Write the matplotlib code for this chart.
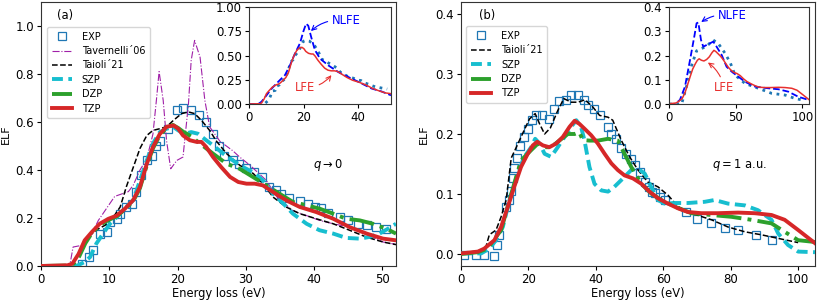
import matplotlib
matplotlib.use("Agg")
import matplotlib.pyplot as plt

# ---------------- Panel (a): q -> 0 ----------------
exp_a_x = [6.0, 7.07, 7.66, 8.6, 9.6, 10.1, 11.1, 11.6, 12.5, 13.3, 13.9, 14.7, 15.5, 16.2, 16.8, 17.4,
           18.6, 19.9, 20.8, 22.0, 23.2, 24.1, 25.2, 26.1, 26.8, 28.1, 29.0, 30.1, 31.2, 32.3, 33.4,
           34.4, 35.2, 36.3, 37.9, 39.1, 40.1, 41.0, 42.0, 43.8, 45.0, 46.4, 47.7, 49.1, 50.6]
exp_a_y = [0.01, 0.0375, 0.068, 0.135, 0.14, 0.183, 0.197, 0.218, 0.245, 0.26, 0.31, 0.38, 0.44, 0.46, 0.50, 0.52,
           0.572, 0.649, 0.658, 0.651, 0.63, 0.60, 0.55, 0.50, 0.46, 0.443, 0.426, 0.41, 0.39, 0.37, 0.33,
           0.315, 0.30, 0.283, 0.27, 0.257, 0.246, 0.243, 0.222, 0.204, 0.19, 0.176, 0.17, 0.162, 0.155]

tav_x = [0, 4.2, 4.7, 5.95, 7.2, 8.4, 9.6, 10.8, 11.8, 12.8, 13.5, 14.5, 15.5, 16.4, 16.9, 17.3, 17.9, 18.4, 19.0,
         19.9, 20.8, 21.6, 22.0, 22.5, 23.3, 24.0, 24.7, 26.2, 28.1, 29.1, 30.6, 33.0, 34.5, 36.9, 38.9, 40.8,
         42.8, 45.2, 46.7, 48.6, 50.1, 52.0]
tav_y = [0, 0.0, 0.079, 0.086, 0.12, 0.19, 0.24, 0.29, 0.30, 0.31, 0.336, 0.40, 0.447, 0.55, 0.69, 0.81, 0.69, 0.52,
         0.405, 0.44, 0.454, 0.676, 0.857, 0.94, 0.87, 0.69, 0.58, 0.52, 0.48, 0.454, 0.42, 0.357, 0.29, 0.23,
         0.21, 0.19, 0.176, 0.162, 0.149, 0.12, 0.10, 0.09]

tai_a_x = [0, 4.5, 5.7, 6.9, 8.1, 9.4, 10.6, 11.6, 12.5, 13.5, 14.5, 15.5, 16.4, 17.4, 18.4, 19.4, 20.6, 21.6,
           22.5, 23.5, 24.7, 25.7, 27.2, 29.1, 31.1, 32.5, 34.0, 35.9, 37.9, 40.3, 42.8, 45.2, 47.7, 50.1, 52.0]
tai_a_y = [0, 0.0, 0.065, 0.12, 0.15, 0.17, 0.204, 0.246, 0.33, 0.41, 0.49, 0.544, 0.565, 0.572, 0.58, 0.607,
           0.635, 0.642, 0.635, 0.607, 0.565, 0.52, 0.468, 0.42, 0.385, 0.343, 0.287, 0.246, 0.218, 0.197, 0.176,
           0.149, 0.12, 0.10, 0.089]

szp_a_x = [0, 5.2, 6.4, 7.2, 8.1, 9.1, 10.1, 11.1, 12.5, 13.5, 14.5, 15.5, 16.4, 17.4, 18.4, 19.4, 20.1, 21.1,
           22.0, 23.0, 24.2, 25.5, 26.7, 28.1, 29.6, 31.1, 32.5, 34.0, 35.5, 36.9, 38.9, 40.8, 42.8, 44.7, 46.7,
           48.1, 49.6, 50.8, 52.0]
szp_a_y = [0, 0.0, 0.017, 0.0375, 0.093, 0.135, 0.176, 0.204, 0.246, 0.274, 0.357, 0.44, 0.51, 0.558, 0.572,
           0.579, 0.565, 0.551, 0.558, 0.551, 0.524, 0.496, 0.468, 0.44, 0.412, 0.39, 0.357, 0.301, 0.26, 0.218,
           0.176, 0.149, 0.135, 0.117, 0.114, 0.121, 0.135, 0.155, 0.176]

dzp_a_x = [0, 4.0, 4.8, 5.6, 6.5, 7.4, 8.6, 9.9, 11.1, 12.3, 13.5, 14.5, 15.5, 16.4, 17.4, 18.4, 19.3, 20.1,
           20.8, 22.0, 23.3, 25.2, 27.2, 29.1, 31.1, 33.0, 35.0, 36.9, 38.9, 40.8, 42.8, 44.7, 46.7, 48.6, 50.6, 52.0]
dzp_a_y = [0, 0.002, 0.01, 0.04, 0.095, 0.135, 0.17, 0.192, 0.207, 0.236, 0.27, 0.325, 0.42, 0.49, 0.545, 0.575,
           0.588, 0.575, 0.56, 0.54, 0.51, 0.468, 0.426, 0.405, 0.37, 0.336, 0.30, 0.267, 0.253, 0.239, 0.218,
           0.197, 0.19, 0.176, 0.155, 0.135]

tzp_a_x = [0, 3.9, 4.6, 5.5, 6.4, 7.4, 8.6, 9.9, 11.1, 12.3, 13.5, 14.5, 15.5, 16.4, 17.4, 18.4, 19.4, 20.1,
           20.8, 21.8, 22.8, 23.5, 24.2, 25.2, 26.4, 27.7, 28.9, 30.1, 31.3, 32.5, 34.0, 35.9, 37.9, 40.3, 42.8,
           45.2, 47.7, 50.1, 52.0]
tzp_a_y = [0, 0.003, 0.01, 0.05, 0.107, 0.14, 0.176, 0.197, 0.21, 0.239, 0.274, 0.33, 0.426, 0.496, 0.55, 0.58,
           0.586, 0.572, 0.544, 0.524, 0.517, 0.517, 0.496, 0.454, 0.412, 0.371, 0.35, 0.343, 0.343, 0.336,
           0.308, 0.274, 0.246, 0.225, 0.197, 0.162, 0.135, 0.114, 0.107]

nlfe_a_x = [0, 3.4, 4.6, 6.5, 8.3, 10.7, 13.2, 15.0, 16.8, 18.7, 19.9, 20.9, 21.7, 22.7, 24.1, 26.0, 29.0, 32.7,
            36.3, 40.0, 44.9, 48.5, 52.0]
nlfe_a_y = [0, 0.0, 0.024, 0.093, 0.16, 0.23, 0.30, 0.40, 0.52, 0.63, 0.75, 0.83, 0.81, 0.70, 0.56, 0.47, 0.40,
            0.33, 0.28, 0.23, 0.16, 0.13, 0.09]

# ---------------- Panel (b): q = 1 a.u. ----------------
exp_b_x = [1.0, 4.5, 6.9, 9.9, 10.7, 11.4, 13.4, 14.1, 14.7, 15.3, 15.8, 16.6, 17.6, 18.6, 19.8, 21.0, 22.3, 24.0,
           26.2, 27.7, 29.2, 31.2, 32.7, 34.7, 36.4, 37.8, 39.4, 41.1, 43.6, 44.6, 46.0, 47.5, 49.0, 50.5, 51.7,
           53.0, 54.5, 55.9, 56.6, 57.6, 58.9, 60.4, 66.8, 70.1, 74.1, 78.4, 82.2, 87.6, 92.1]
exp_b_y = [-0.002, -0.002, -0.002, -0.004, 0.015, 0.032, 0.079, 0.09, 0.105, 0.126, 0.144, 0.16, 0.18, 0.195,
           0.209, 0.223, 0.231, 0.231, 0.225, 0.242, 0.255, 0.256, 0.265, 0.265, 0.257, 0.249, 0.242, 0.231, 0.212,
           0.20, 0.192, 0.176, 0.167, 0.159, 0.148, 0.137, 0.12, 0.112, 0.104, 0.101, 0.095, 0.09, 0.07, 0.059,
           0.051, 0.043, 0.04, 0.032, 0.024]

tai_b_x = [0, 5.0, 7.4, 8.4, 10.4, 11.9, 13.4, 14.9, 16.0, 17.8, 20.3, 22.0, 23.3, 24.8, 26.5, 28.7, 30.5, 32.7,
           34.7, 36.8, 39.1, 41.1, 43.6, 45.0, 47.5, 50.0, 52.5, 55.4, 58.4, 61.4, 64.4, 68.3, 74.3, 79.2, 84.2,
           89.1, 94.1, 100.0]
tai_b_y = [0.001, 0.004, 0.012, 0.032, 0.04, 0.062, 0.09, 0.16, 0.173, 0.195, 0.225, 0.234, 0.217, 0.20, 0.21,
           0.239, 0.259, 0.253, 0.253, 0.257, 0.245, 0.231, 0.228, 0.223, 0.19, 0.162, 0.14, 0.12, 0.112, 0.098,
           0.079, 0.068, 0.057, 0.045, 0.037, 0.032, 0.026, 0.019]

szp_b_x = [0, 6.0, 8.4, 10.4, 12.4, 14.4, 16.8, 18.8, 20.8, 22.0, 23.3, 24.8, 26.7, 28.7, 30.7, 32.7, 34.2, 35.6,
           36.6, 38.1, 39.6, 41.6, 43.6, 45.5, 47.5, 50.5, 52.5, 54.5, 56.4, 58.4, 60.4, 63.4, 67.3, 72.3, 75.2,
           79.2, 84.2, 88.1, 92.1, 94.1, 97.0, 100.0, 105.0]
szp_b_y = [0.001, 0.001, 0.009, 0.023, 0.045, 0.09, 0.134, 0.162, 0.178, 0.192, 0.184, 0.167, 0.162, 0.178, 0.195,
           0.212, 0.223, 0.212, 0.19, 0.145, 0.117, 0.106, 0.104, 0.112, 0.123, 0.14, 0.142, 0.134, 0.112, 0.09,
           0.084, 0.085, 0.085, 0.087, 0.09, 0.084, 0.081, 0.073, 0.057, 0.034, 0.015, 0.004, 0.003]

dzp_b_x = [0, 5.0, 7.9, 11.9, 14.9, 17.8, 20.8, 22.8, 24.8, 26.7, 28.7, 31.7, 33.7, 35.1, 36.1, 38.1, 40.6, 43.6,
           46.5, 48.5, 50.5, 53.5, 56.4, 59.4, 63.4, 68.3, 74.3, 80.2, 86.1, 92.1, 96.0, 100.0, 105.0]
dzp_b_y = [0.0, 0.003, 0.009, 0.04, 0.10, 0.156, 0.173, 0.184, 0.178, 0.178, 0.187, 0.20, 0.20, 0.203, 0.19, 0.189,
           0.189, 0.192, 0.189, 0.167, 0.145, 0.117, 0.101, 0.09, 0.079, 0.068, 0.065, 0.062, 0.057, 0.051, 0.037,
           0.023, 0.02]

tzp_b_x = [0, 5.0, 6.9, 9.9, 11.9, 13.9, 15.8, 17.8, 19.8, 21.3, 22.6, 24.3, 26.2, 28.2, 30.2, 32.2, 33.7, 35.1,
           36.6, 38.6, 40.6, 42.6, 44.6, 46.5, 48.5, 51.0, 53.5, 55.9, 58.4, 61.4, 64.4, 67.3, 71.3, 76.2, 82.2,
           87.1, 92.1, 96.0, 100.0, 105.0]
tzp_b_y = [0.001, 0.004, 0.009, 0.023, 0.045, 0.079, 0.112, 0.145, 0.167, 0.181, 0.187, 0.181, 0.178, 0.184, 0.195,
           0.212, 0.222, 0.217, 0.209, 0.198, 0.184, 0.167, 0.151, 0.14, 0.131, 0.126, 0.117, 0.104, 0.093, 0.084,
           0.076, 0.07, 0.068, 0.068, 0.069, 0.068, 0.065, 0.057, 0.04, 0.018]

nlfe_b_x = [0, 4.5, 8.2, 12.0, 15.7, 19.0, 20.7, 22.0, 24.0, 25.7, 28.2, 30.7, 33.2, 35.7, 39.5, 43.2, 47.0, 52.0,
            57.0, 64.5, 74.5, 82.0, 89.5, 97.0, 104.5]
nlfe_b_y = [0, 0.0, 0.017, 0.072, 0.18, 0.28, 0.334, 0.337, 0.265, 0.237, 0.244, 0.251, 0.258, 0.237, 0.203, 0.154,
            0.134, 0.113, 0.092, 0.072, 0.065, 0.061, 0.051, 0.030, 0.017]

dot_b_x = [0, 9.5, 13.0, 17.0, 20.7, 24.5, 28.0, 33.0, 37.0, 42.0, 46.0, 49.5, 57.0, 67.0, 77.0, 87.0, 94.5, 102.0]
dot_b_y = [0, 0.0, 0.07, 0.16, 0.22, 0.23, 0.237, 0.265, 0.25, 0.21, 0.17, 0.12, 0.085, 0.065, 0.044, 0.037,
           0.023, 0.014]

# ---------------- styling ----------------
FS_T = 8.5    # tick labels
FS_L = 8.3    # axis labels / annotations
FS_LEG = 7.0  # legend
plt.rcParams['font.family'] = ['DejaVu Sans']
plt.rcParams['font.size'] = FS_L
plt.rcParams['xtick.labelsize'] = FS_T
plt.rcParams['ytick.labelsize'] = FS_T
plt.rcParams['axes.edgecolor'] = '#333333'
plt.rcParams['axes.linewidth'] = 0.8

C_EXP = '#1f77b4'
C_TAV = '#a020a8'
C_SZP = '#17becf'
C_DZP = '#2ca02c'
C_TZP = '#d62728'
C_LFE = '#e8302e'
C_NL = '#0000ff'

fig = plt.figure(figsize=(8.22, 3.0), dpi=100)

H = 264 / 300
B = 34 / 300
axa = fig.add_axes([41 / 822, B, 355 / 822, H])
axb = fig.add_axes([461 / 822, B, 354 / 822, H])

LW = 2.8

def draw_main(ax, ex, ey, curves):
    ax.plot(ex, ey, 's', mfc='none', mec=C_EXP, ms=5.4, mew=0.9, label='EXP', zorder=2)
    for (x, y, kw) in curves:
        ax.plot(x, y, **kw)

draw_main(axa, exp_a_x, exp_a_y, [
    (tav_x, tav_y, dict(color=C_TAV, ls='-.', lw=0.8, label='Tavernelli\u00b406', zorder=3)),
    (tai_a_x, tai_a_y, dict(color='k', ls='--', lw=1.1, label='Taioli\u00b421', zorder=3)),
    (szp_a_x, szp_a_y, dict(color=C_SZP, ls=(0, (2.8, 1.4)), lw=LW, label='SZP', zorder=4)),
    (dzp_a_x, dzp_a_y, dict(color=C_DZP, ls='-.', lw=LW, label='DZP', zorder=5)),
    (tzp_a_x, tzp_a_y, dict(color=C_TZP, ls='-', lw=LW, label='TZP', zorder=6)),
])
draw_main(axb, exp_b_x, exp_b_y, [
    (tai_b_x, tai_b_y, dict(color='k', ls='--', lw=1.1, label='Taioli\u00b421', zorder=3)),
    (szp_b_x, szp_b_y, dict(color=C_SZP, ls=(0, (2.8, 1.4)), lw=LW, label='SZP', zorder=4)),
    (dzp_b_x, dzp_b_y, dict(color=C_DZP, ls='-.', lw=LW, label='DZP', zorder=5)),
    (tzp_b_x, tzp_b_y, dict(color=C_TZP, ls='-', lw=LW, label='TZP', zorder=6)),
])

axa.set_xlim(0, 52)
axa.set_ylim(0, 1.1)
axa.set_xticks([0, 10, 20, 30, 40, 50])
axa.set_yticks([0.0, 0.2, 0.4, 0.6, 0.8, 1.0])
axb.set_xlim(0, 105)
axb.set_ylim(-0.02, 0.42)
axb.set_xticks([0, 20, 40, 60, 80, 100])
axb.set_yticks([0.0, 0.1, 0.2, 0.3, 0.4])
for ax in (axa, axb):
    ax.set_xlabel('Energy loss (eV)', fontsize=FS_L, labelpad=1)
    ax.set_ylabel('ELF', fontsize=8.0)
    ax.tick_params(length=3, pad=2)
axa.yaxis.set_label_coords(-0.086, 0.5)
axb.yaxis.set_label_coords(-0.092, 0.5)

axa.text(2.3, 1.045, '(a)', fontsize=FS_L, va='center', ha='left')
axb.text(5.4, 0.397, '(b)', fontsize=FS_L, va='center', ha='left')
axa.text(42, 0.42, r'$q\rightarrow 0$', fontsize=FS_L, ha='center', va='center')
axb.text(82.7, 0.148, r'$q=1$ a.u.', fontsize=FS_L, ha='center', va='center')

leg_kw = dict(loc='upper left', fontsize=FS_LEG, frameon=True, handlelength=2.1, borderpad=0.5,
              labelspacing=0.45, handletextpad=1.0, borderaxespad=0.0)
axa.legend(bbox_to_anchor=(0.016, 0.906), **leg_kw)
axb.legend(bbox_to_anchor=(0.014, 0.909), **leg_kw)

# ---------------- insets ----------------
ia = fig.add_axes([249 / 822, 196 / 300, 142 / 822, 96.7 / 300])
ib = fig.add_axes([669 / 822, 196 / 300, 140 / 822, 96.7 / 300])

ia.plot(exp_a_x, exp_a_y, ls=':', color=C_EXP, lw=2.0)
ia.plot(nlfe_a_x, nlfe_a_y, ls='--', color=C_NL, lw=1.3)
ia.plot(tzp_a_x, tzp_a_y, ls='-', color=C_LFE, lw=1.1)
ia.set_xlim(0, 52)
ia.set_ylim(0, 1.0)
ia.set_xticks([0, 20, 40])
ia.set_yticks([0.0, 0.25, 0.5, 0.75, 1.0])
ia.set_yticklabels(['0.00', '0.25', '0.50', '0.75', '1.00'])

ib.plot(dot_b_x, dot_b_y, ls=':', color=C_EXP, lw=2.0)
ib.plot(nlfe_b_x, nlfe_b_y, ls='--', color=C_NL, lw=1.3)
ib.plot(tzp_b_x, tzp_b_y, ls='-', color=C_LFE, lw=1.1)
ib.set_xlim(0, 105)
ib.set_ylim(0, 0.4)
ib.set_xticks([0, 50, 100])
ib.set_yticks([0.0, 0.1, 0.2, 0.3, 0.4])

for ax in (ia, ib):
    ax.tick_params(length=3, pad=2, labelsize=FS_T)

ia.annotate('NLFE', xy=(22.3, 0.745), xytext=(30.3, 0.86), color=C_NL, fontsize=FS_L, va='center', ha='left',
            arrowprops=dict(arrowstyle='->', color=C_NL, lw=0.8, connectionstyle='arc3,rad=0.25',
                            shrinkA=1, shrinkB=1))
ia.annotate('LFE', xy=(30.5, 0.31), xytext=(20.5, 0.17), color=C_LFE, fontsize=FS_L, va='center', ha='center',
            arrowprops=dict(arrowstyle='->', color=C_LFE, lw=0.8, connectionstyle='arc3,rad=0.25',
                            shrinkA=1, shrinkB=1))
ib.annotate('NLFE', xy=(23.3, 0.336), xytext=(47.5, 0.368), color=C_NL, fontsize=FS_L, va='center', ha='center',
            arrowprops=dict(arrowstyle='->', color=C_NL, lw=0.8, connectionstyle='arc3,rad=0.2',
                            shrinkA=1, shrinkB=1))
ib.annotate('LFE', xy=(28.3, 0.175), xytext=(41.3, 0.069), color=C_LFE, fontsize=FS_L, va='center', ha='center',
            arrowprops=dict(arrowstyle='->', color=C_LFE, lw=0.8, connectionstyle='arc3,rad=0.2',
                            shrinkA=1, shrinkB=1))

fig.savefig('out.png', dpi=100)
